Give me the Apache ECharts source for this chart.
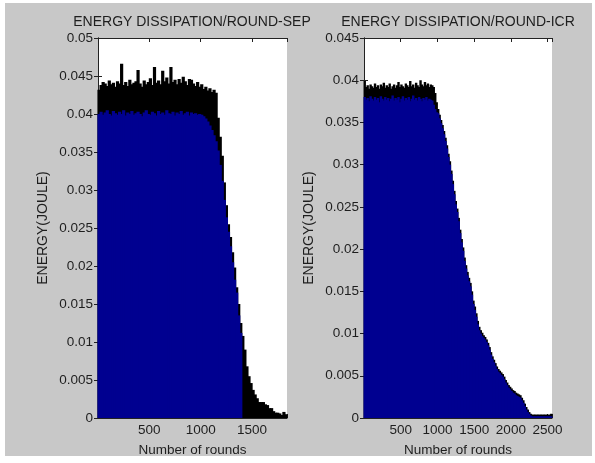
<!DOCTYPE html>
<html>
<head>
<meta charset="utf-8">
<script src="https://cdn.jsdelivr.net/npm/echarts@6/dist/echarts.min.js"></script>
<style>
  html, body { margin: 0; padding: 0; background: #fff; }
  #wrap { position: relative; width: 595px; height: 463px; }
  #fig { position: absolute; left: 5px; top: 3px; width: 587px; height: 453px; background: #c8c8c8; }
  #chart { position: absolute; left: 0; top: 0; width: 595px; height: 463px; }
</style>
</head>
<body>
<div id="wrap"><div id="fig"></div><div id="chart"></div></div>
<script>
// rounds are grouped in bins of 20; each bar is the energy of one bin
var binSize = 20;

// SEP: upper (black) edge and lower (blue) fill, per bin from round 0 to 1840
var sepTop = [
  0.0432, 0.0438, 0.0442, 0.0440, 0.0437, 0.0444, 0.0439, 0.0441, 0.0436, 0.0443,
  0.0440, 0.0466, 0.0438, 0.0442, 0.0437, 0.0445, 0.0439, 0.0441, 0.0443, 0.0458,
  0.0440, 0.0436, 0.0444, 0.0439, 0.0442, 0.0447, 0.0438, 0.0462, 0.0441, 0.0444,
  0.0439, 0.0457, 0.0443, 0.0448, 0.0440, 0.0462, 0.0442, 0.0445, 0.0439, 0.0446,
  0.0441, 0.0449, 0.0443, 0.0438, 0.0446, 0.0445, 0.0440, 0.0437, 0.0442, 0.0436,
  0.0439, 0.0433, 0.0436, 0.0431, 0.0434, 0.0429, 0.0432, 0.0428, 0.0395, 0.0370,
  0.0345, 0.0310, 0.0280, 0.0255, 0.0238, 0.0218, 0.0198, 0.0172, 0.0150, 0.0125,
  0.0108, 0.0090, 0.0068, 0.0055, 0.0046, 0.0037, 0.0031, 0.0026, 0.0021, 0.0021,
  0.0021, 0.0018, 0.0017, 0.0013, 0.0013, 0.0009, 0.0007, 0.0007, 0.0006, 0.0004,
  0.0008, 0.0005
];
var sepFill = [
  0.0400, 0.0403, 0.0399, 0.0402, 0.0405, 0.0400, 0.0398, 0.0404, 0.0401, 0.0399,
  0.0403, 0.0400, 0.0405, 0.0398, 0.0402, 0.0400, 0.0404, 0.0399, 0.0401, 0.0403,
  0.0400, 0.0397, 0.0402, 0.0405, 0.0400, 0.0399, 0.0403, 0.0401, 0.0398, 0.0404,
  0.0400, 0.0402, 0.0399, 0.0405, 0.0401, 0.0400, 0.0403, 0.0398, 0.0402, 0.0400,
  0.0404, 0.0399, 0.0401, 0.0403, 0.0398, 0.0402, 0.0400, 0.0401, 0.0399, 0.0400,
  0.0399, 0.0397, 0.0394, 0.0390, 0.0385, 0.0379, 0.0372, 0.0364, 0.0352, 0.0333,
  0.0312, 0.0287, 0.0264, 0.0245, 0.0226, 0.0205, 0.0182, 0.0165, 0.0135, 0.0112,
  0, 0, 0, 0, 0, 0, 0, 0, 0, 0,
  0, 0, 0, 0, 0, 0, 0, 0, 0, 0,
  0, 0
];

// ICR: per bin from round 0 to 2560
var icrTop = [
  0.0399, 0.0392, 0.0394, 0.0390, 0.0395, 0.0393, 0.0391, 0.0396, 0.0392, 0.0394,
  0.0390, 0.0395, 0.0393, 0.0397, 0.0391, 0.0394, 0.0392, 0.0396, 0.0390, 0.0393,
  0.0395, 0.0391, 0.0394, 0.0398, 0.0392, 0.0395, 0.0393, 0.0391, 0.0396, 0.0394,
  0.0392, 0.0399, 0.0393, 0.0395, 0.0391, 0.0397, 0.0394, 0.0392, 0.0400, 0.0395,
  0.0393, 0.0398, 0.0394, 0.0396, 0.0392, 0.0395, 0.0394, 0.0392, 0.0385, 0.0374,
  0.0366, 0.0359, 0.0353, 0.0347, 0.0340, 0.0332, 0.0323, 0.0313, 0.0304, 0.0293,
  0.0281, 0.0269, 0.0257, 0.0248, 0.0237, 0.0223, 0.0212, 0.0202, 0.0190, 0.0181,
  0.0173, 0.0166, 0.0160, 0.0150, 0.0139, 0.0132, 0.0124, 0.0115, 0.0108, 0.0104,
  0.0101, 0.0098, 0.0096, 0.0093, 0.0089, 0.0084, 0.0078, 0.0073, 0.0069, 0.0065,
  0.0061, 0.0058, 0.0056, 0.0054, 0.0052, 0.0049, 0.0045, 0.0042, 0.0039, 0.0037,
  0.0035, 0.0033, 0.0032, 0.0030, 0.0029, 0.0028, 0.0027, 0.0024, 0.0021, 0.0017,
  0.0013, 0.0010, 0.0007, 0.0005, 0.0004, 0.0004, 0.0004, 0.0004, 0.0004, 0.0004,
  0.0004, 0.0004, 0.0004, 0.0004, 0.0004, 0.0004, 0.0004, 0.0005
];
var icrFill = [
  0.0380, 0.0377, 0.0379, 0.0375, 0.0381, 0.0378, 0.0376, 0.0380, 0.0377, 0.0379,
  0.0374, 0.0381, 0.0378, 0.0376, 0.0380, 0.0377, 0.0379, 0.0375, 0.0378, 0.0382,
  0.0376, 0.0379, 0.0377, 0.0380, 0.0374, 0.0378, 0.0381, 0.0376, 0.0379, 0.0377,
  0.0380, 0.0375, 0.0378, 0.0382, 0.0377, 0.0379, 0.0376, 0.0380, 0.0378, 0.0375,
  0.0379, 0.0377, 0.0380, 0.0376, 0.0378, 0.0377, 0.0376, 0.0371, 0.0366, 0.0362,
  0.0361, 0.0355, 0.0349, 0.0343, 0.0336, 0.0328, 0.0319, 0.0309, 0.0300, 0.0289,
  0.0277, 0.0265, 0.0253, 0.0244, 0.0233, 0.0219, 0.0208, 0.0198, 0.0186, 0.0177,
  0.0169, 0.0162, 0.0156, 0.0146, 0.0135, 0.0128, 0.0120, 0.0111, 0.0104, 0.0100,
  0.0097, 0.0095, 0.0093, 0.0090, 0.0086, 0.0081, 0.0075, 0.0070, 0.0066, 0.0062,
  0.0058, 0.0055, 0.0053, 0.0051, 0.0049, 0.0046, 0.0042, 0.0039, 0.0036, 0.0034,
  0.0032, 0.0030, 0.0029, 0.0027, 0.0026, 0.0025, 0.0024, 0.0021, 0.0018, 0.0014,
  0.0010, 0.0007, 0.0005, 0.0003, 0.0002, 0.0002, 0.0002, 0.0002, 0.0002, 0.0002,
  0.0002, 0.0002, 0.0002, 0.0002, 0.0002, 0.0002, 0.0002, 0.0002
];

var titles = ['ENERGY DISSIPATION/ROUND-SEP', 'ENERGY DISSIPATION/ROUND-ICR'];
var xName = 'Number of rounds';
var yName = 'ENERGY(JOULE)';
var xMax = [1840, 2560];
var yMax = [0.05, 0.045];

function pairs(vals) {
  return vals.map(function (v, i) { return [i * binSize + binSize / 2, v]; });
}

var font = 'Liberation Sans, Arial, sans-serif';
var ink = '#1e1e1e';
var lineStyle = { color: '#222', width: 1 };

function xAxes(g) {
  var base = {
    type: 'value', gridIndex: g, min: 0, max: xMax[g], interval: 500,
    axisLine: { show: true, onZero: false, lineStyle: lineStyle },
    axisTick: { show: true, inside: true, length: 4, lineStyle: lineStyle },
    splitLine: { show: false }
  };
  var bottom = Object.assign({}, base, {
    position: 'bottom',
    name: xName, nameLocation: 'middle', nameGap: 25,
    nameTextStyle: { fontFamily: font, fontSize: 13.5, color: ink },
    axisLabel: {
      margin: 5, fontFamily: font, fontSize: 13.5, color: ink,
      formatter: function (v) { return (v > 0 && v % 500 === 0) ? String(v) : ''; }
    }
  });
  var top = Object.assign({}, base, { position: 'top', axisLabel: { show: false } });
  return [bottom, top];
}

function yAxes(g) {
  var base = {
    type: 'value', gridIndex: g, min: 0, max: yMax[g], interval: 0.005,
    axisLine: { show: true, lineStyle: lineStyle },
    axisTick: { show: true, inside: true, length: 4, lineStyle: lineStyle },
    splitLine: { show: false }
  };
  var left = Object.assign({}, base, {
    position: 'left',
    name: yName, nameLocation: 'middle', nameGap: 48,
    nameTextStyle: { fontFamily: font, fontSize: 14, color: ink },
    axisLabel: {
      margin: 5, fontFamily: font, fontSize: 13.5, color: ink,
      formatter: function (v) { return String(+v.toFixed(3)); }
    }
  });
  var right = Object.assign({}, base, { position: 'right', axisLabel: { show: false } });
  return [left, right];
}

var chart = echarts.init(document.getElementById('chart'), null, { renderer: 'canvas' });

chart.setOption({
  animation: false,
  backgroundColor: 'transparent',
  title: [
    { text: titles[0], left: 192, top: 15, textAlign: 'center', padding: 0,
      textStyle: { fontFamily: font, fontSize: 14, fontWeight: 'normal', color: ink } },
    { text: titles[1], left: 458, top: 15, textAlign: 'center', padding: 0,
      textStyle: { fontFamily: font, fontSize: 14, fontWeight: 'normal', color: ink } }
  ],
  grid: [
    { left: 98, top: 38, width: 189, height: 380, show: true, backgroundColor: '#fff', borderWidth: 0 },
    { left: 364, top: 38, width: 188, height: 380, show: true, backgroundColor: '#fff', borderWidth: 0 }
  ],
  xAxis: xAxes(0).concat(xAxes(1)),
  yAxis: yAxes(0).concat(yAxes(1)),
  series: [
    { type: 'bar', xAxisIndex: 0, yAxisIndex: 0, data: pairs(sepTop), barWidth: 3.2, barGap: '-100%',
      itemStyle: { color: '#000' } },
    { type: 'bar', xAxisIndex: 0, yAxisIndex: 0, data: pairs(sepFill), barWidth: 3.2, barGap: '-100%',
      itemStyle: { color: '#000090' } },
    { type: 'bar', xAxisIndex: 2, yAxisIndex: 2, data: pairs(icrTop), barWidth: 2.4, barGap: '-100%',
      itemStyle: { color: '#000' } },
    { type: 'bar', xAxisIndex: 2, yAxisIndex: 2, data: pairs(icrFill), barWidth: 2.4, barGap: '-100%',
      itemStyle: { color: '#000090' } }
  ]
});
</script>
</body>
</html>
